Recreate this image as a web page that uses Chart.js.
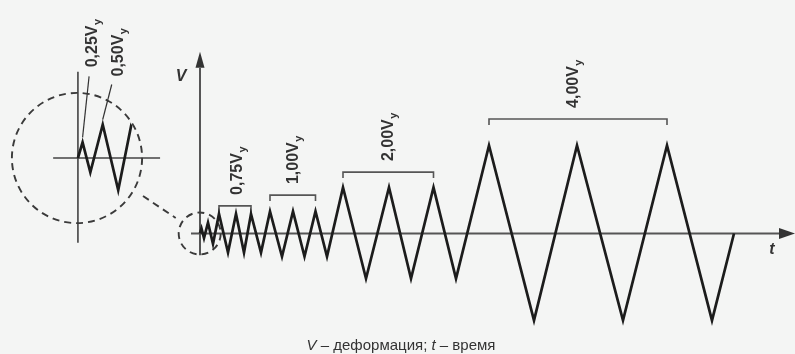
<!DOCTYPE html>
<html>
<head>
<meta charset="utf-8">
<script src="https://cdn.jsdelivr.net/npm/chart.js@4.4.0/dist/chart.umd.min.js"></script>
<style>
  html, body { margin: 0; padding: 0; background: #f4f5f4; }
  #wrap { width: 795px; height: 354px; }
</style>
</head>
<body>
<div id="wrap"><canvas id="loading-chart" width="795" height="354"></canvas></div>
<script>
// time (arbitrary units from the origin) and deformation (in Vy)
const times  = [0, 1.5, 4, 8, 13, 19, 28, 36, 44, 51, 61, 70, 82, 93, 104.5, 115.5, 127,
                143, 166, 189, 211, 233.5, 256, 289, 334, 377, 423, 467, 512, 534];
const deform = [0, 0.22, -0.2, 0.47, -0.45, 0.85, -0.83, 0.85, -0.83, 0.85, -0.83,
                0.96, -1.0, 0.96, -1.0, 0.96, -1.0, 2.0, -1.96, 2.0, -1.96, 2.0, -1.96,
                3.83, -3.78, 3.83, -3.78, 3.83, -3.78, 0];

// brackets over the cycle groups
const groupLabels  = ['0,75', '1,00', '2,00', '4,00'];
const groupStart   = [19, 70, 143, 289];
const groupEnd     = [51, 115.5, 233.5, 467];
const groupLevel   = [1.2, 1.67, 2.67, 4.98];
const groupLabelAt = [42, 98, 193, 378];

// labels inside the zoomed circle (index of the peak they point at)
const insetLabels = ['0,25', '0,50'];
const insetPeaks  = [1, 3];

const caption = ['V', ' – деформация; ', 't', ' – время'];

const points = times.map((t, i) => ({ x: t, y: deform[i] }));

const TEXT = '#333';
const AXIS = '#555';

// draw a rotated label like "0,75V" with subscript y, reading bottom to top
function rotatedLabel(ctx, txt, x, y) {
  ctx.save();
  ctx.translate(x, y);
  ctx.rotate(-Math.PI / 2);
  ctx.fillStyle = TEXT;
  ctx.font = 'bold 16px "Liberation Sans", Arial, sans-serif';
  ctx.textAlign = 'left';
  ctx.textBaseline = 'alphabetic';
  ctx.fillText(txt + 'V', 0, 0);
  const w = ctx.measureText(txt + 'V').width;
  ctx.font = 'bold 11px "Liberation Sans", Arial, sans-serif';
  ctx.fillText('y', w + 0.5, 4);
  ctx.restore();
}

function arrowHead(ctx, tipX, tipY, dir) {
  ctx.beginPath();
  if (dir === 'right') {
    ctx.moveTo(tipX, tipY);
    ctx.lineTo(tipX - 16, tipY - 5.5);
    ctx.lineTo(tipX - 16, tipY + 5.5);
  } else {
    ctx.moveTo(tipX, tipY);
    ctx.lineTo(tipX - 4.5, tipY + 16);
    ctx.lineTo(tipX + 4.5, tipY + 16);
  }
  ctx.closePath();
  ctx.fill();
}

const decorations = {
  id: 'decorations',
  beforeDatasetsDraw(chart) {
    const { ctx, scales: { x, y, x2, y2 } } = chart;
    ctx.save();
    ctx.strokeStyle = AXIS;
    ctx.fillStyle = '#333';
    ctx.lineWidth = 2;

    // main axes
    const y0 = y.getPixelForValue(0);
    const xAx = x.getPixelForValue(0);
    ctx.beginPath();
    ctx.moveTo(x.getPixelForValue(-9), y0);
    ctx.lineTo(x.getPixelForValue(581), y0);
    ctx.stroke();
    arrowHead(ctx, x.getPixelForValue(595), y0, 'right');
    ctx.beginPath();
    ctx.moveTo(xAx, y.getPixelForValue(-0.95));
    ctx.lineTo(xAx, y.getPixelForValue(7.2));
    ctx.stroke();
    arrowHead(ctx, xAx, y.getPixelForValue(7.9), 'up');

    // inset axes
    ctx.lineWidth = 1.6;
    ctx.strokeStyle = '#444';
    const iy0 = y2.getPixelForValue(0);
    const ix0 = x2.getPixelForValue(0);
    ctx.beginPath();
    ctx.moveTo(x2.getPixelForValue(-8), iy0);
    ctx.lineTo(x2.getPixelForValue(26.5), iy0);
    ctx.moveTo(ix0, y2.getPixelForValue(1.21));
    ctx.lineTo(ix0, y2.getPixelForValue(-1.19));
    ctx.stroke();

    // dashed circles and connector
    const cs = { x: x.getPixelForValue(-0.3), y: y0 };
    const ci = { x: x2.getPixelForValue(-0.3), y: iy0 };
    const r = x.getPixelForValue(21) - x.getPixelForValue(0);
    const rInset = x2.getPixelForValue(21) - x2.getPixelForValue(0);
    ctx.setLineDash([7, 5]);
    ctx.lineWidth = 1.9;
    ctx.strokeStyle = '#3a3a3a';
    ctx.beginPath();
    ctx.arc(cs.x, cs.y, r, 0, Math.PI * 2);
    ctx.stroke();
    ctx.beginPath();
    ctx.arc(ci.x, ci.y, rInset, 0, Math.PI * 2);
    ctx.stroke();
    ctx.beginPath();
    ctx.moveTo(ci.x + 66, ci.y + 38);
    ctx.lineTo(cs.x - 24, cs.y - 15.5);
    ctx.stroke();
    ctx.setLineDash([]);

    // brackets and group labels
    ctx.strokeStyle = AXIS;
    ctx.lineWidth = 1.6;
    groupLabels.forEach((lab, i) => {
      const a = x.getPixelForValue(groupStart[i]);
      const b = x.getPixelForValue(groupEnd[i]);
      const by = y.getPixelForValue(groupLevel[i]);
      ctx.beginPath();
      ctx.moveTo(a, by + 6);
      ctx.lineTo(a, by);
      ctx.lineTo(b, by);
      ctx.lineTo(b, by + 6);
      ctx.stroke();
      rotatedLabel(ctx, lab, x.getPixelForValue(groupLabelAt[i]), by - 11);
    });

    // inset labels with leader lines
    const leaderOff = [[6.5, -66], [9, -40]];
    const labelOff = [[14.5, -75], [20, -48]];
    ctx.lineWidth = 1.2;
    ctx.strokeStyle = '#333';
    insetLabels.forEach((lab, i) => {
      const px = x2.getPixelForValue(times[insetPeaks[i]]);
      const py = y2.getPixelForValue(deform[insetPeaks[i]]);
      ctx.beginPath();
      ctx.moveTo(px + leaderOff[i][0], py + leaderOff[i][1]);
      ctx.lineTo(px, py - 5);
      ctx.stroke();
      rotatedLabel(ctx, lab, px + labelOff[i][0], py + labelOff[i][1]);
    });

    // axis names
    ctx.fillStyle = TEXT;
    ctx.font = 'bold italic 16px "Liberation Sans", Arial, sans-serif';
    ctx.textAlign = 'center';
    ctx.fillText('V', xAx - 19, y.getPixelForValue(6.65));
    ctx.fillText('t', x.getPixelForValue(572), y0 + 21);

    // caption
    ctx.textAlign = 'left';
    const fonts = caption.map((s, i) => (i % 2 === 0 ? 'italic ' : '') + '15px "Liberation Sans", Arial, sans-serif');
    let total = 0;
    caption.forEach((s, i) => { ctx.font = fonts[i]; total += ctx.measureText(s).width; });
    let cx = 401 - total / 2;
    caption.forEach((s, i) => {
      ctx.font = fonts[i];
      ctx.fillText(s, cx, 350);
      cx += ctx.measureText(s).width;
    });
    ctx.restore();
  },
  beforeDatasetDraw(chart, args) {
    if (args.index !== 1) return;
    const { ctx, scales: { x2, y2 } } = chart;
    const rInset = x2.getPixelForValue(21) - x2.getPixelForValue(0);
    ctx.save();
    ctx.beginPath();
    ctx.arc(x2.getPixelForValue(-0.3), y2.getPixelForValue(0), rInset - 1, 0, Math.PI * 2);
    ctx.clip();
  },
  afterDatasetDraw(chart, args) {
    if (args.index !== 1) return;
    chart.ctx.restore();
  }
};

new Chart(document.getElementById('loading-chart').getContext('2d'), {
  type: 'line',
  data: {
    datasets: [
      {
        data: points,
        borderColor: '#1c1c1c',
        borderWidth: 2.7,
        pointRadius: 0,
        tension: 0,
        xAxisID: 'x',
        yAxisID: 'y'
      },
      {
        // magnified start of the record, shown in the big dashed circle
        data: points,
        borderColor: '#1c1c1c',
        borderWidth: 2.7,
        pointRadius: 0,
        tension: 0,
        xAxisID: 'x2',
        yAxisID: 'y2'
      }
    ]
  },
  options: {
    responsive: false,
    animation: false,
    devicePixelRatio: 1,
    layout: { padding: 0 },
    scales: {
      x: { type: 'linear', min: -200, max: 595, display: false },
      y: { type: 'linear', min: -5.24, max: 10.152, display: false },
      x2: { type: 'linear', min: -25.139, max: 231.32, display: false },
      y2: { type: 'linear', min: -2.7489, max: 2.216, display: false }
    },
    plugins: {
      legend: { display: false },
      tooltip: { enabled: false }
    }
  },
  plugins: [decorations]
});
</script>
</body>
</html>
